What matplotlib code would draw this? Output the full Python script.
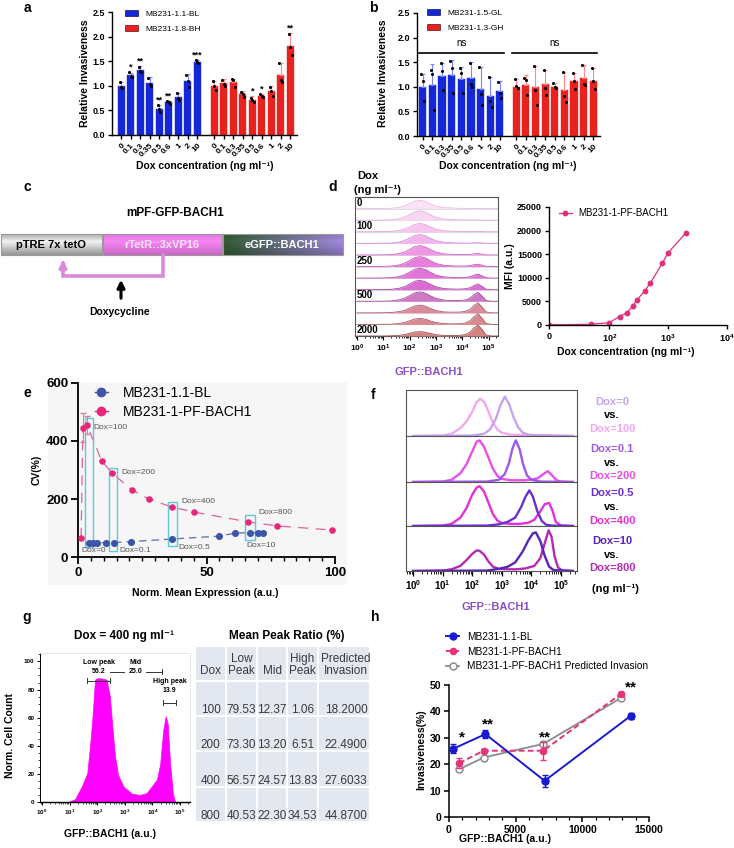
"""
BACH1 figure, panels a-h, rebuilt with matplotlib.
"""
import numpy as np
import matplotlib
matplotlib.use("Agg")
import matplotlib.pyplot as plt
from matplotlib.patches import Rectangle, Patch
from matplotlib.lines import Line2D
from matplotlib.ticker import MultipleLocator, FixedLocator

plt.rcParams["font.family"] = ["Liberation Sans", "DejaVu Sans"]
plt.rcParams["mathtext.fontset"] = "custom"
plt.rcParams["mathtext.rm"] = "Liberation Sans"
plt.rcParams["mathtext.bf"] = "Liberation Sans:bold"

# ── panel a / b data ────────────────────────────────────────────────
dox_labels = ["0", "0.1", "0.3", "0.35", "0.5", "0.6", "1", "2", "10"]

a_bl = [1.00, 1.22, 1.33, 1.06, 0.53, 0.67, 0.78, 1.10, 1.49]
a_bl_err = [0.07, 0.05, 0.08, 0.12, 0.08, 0.03, 0.08, 0.13, 0.03]
a_bl_dots = [[1.07, 0.98, 0.96], [1.28, 1.20, 1.18], [1.39, 1.31, 1.29],
             [1.16, 1.03, 1.00], [0.61, 0.52, 0.47], [0.70, 0.67, 0.64],
             [0.86, 0.75, 0.72], [1.21, 1.10, 0.98], [1.52, 1.48, 1.47]]
a_bl_stars = ["", "*", "**", "", "**", "**", "", "", "***"]
a_bh = [1.00, 1.05, 1.07, 0.83, 0.72, 0.80, 0.89, 1.22, 1.80]
a_bh_err = [0.10, 0.08, 0.06, 0.07, 0.07, 0.04, 0.10, 0.25, 0.27]
a_bh_dots = [[1.10, 1.00, 0.92], [1.12, 1.04, 0.99], [1.13, 1.11, 0.98],
             [0.88, 0.84, 0.78], [0.76, 0.72, 0.68], [0.83, 0.80, 0.78],
             [0.98, 0.90, 0.80], [1.47, 1.12, 1.08], [2.06, 1.78, 1.62]]
a_bh_stars = ["", "", "", "", "*", "*", "", "", "**"]

b_gl = [1.00, 1.03, 1.22, 1.23, 1.15, 1.17, 0.96, 0.82, 0.92]
b_gl_err = [0.26, 0.44, 0.27, 0.32, 0.26, 0.33, 0.44, 0.38, 0.19]
b_gl_dots = [[1.25, 1.12, 0.72], [1.35, 1.25, 0.52], [1.48, 1.32, 0.93],
             [1.52, 1.38, 0.88], [1.38, 1.28, 0.87], [1.48, 1.05, 1.00],
             [1.40, 0.85, 0.62], [1.20, 0.72, 0.58], [1.10, 0.88, 0.78]]
b_gh = [1.00, 1.04, 1.00, 1.05, 1.00, 0.93, 1.12, 1.17, 1.11]
b_gh_err = [0.15, 0.19, 0.42, 0.30, 0.07, 0.37, 0.17, 0.28, 0.28]
b_gh_dots = [[1.16, 1.02, 0.97], [1.18, 1.14, 0.83], [1.42, 0.93, 0.64],
             [1.35, 0.98, 0.83], [1.07, 1.00, 0.98], [1.30, 0.82, 0.70],
             [1.29, 1.12, 0.96], [1.45, 1.05, 1.03], [1.39, 1.12, 0.95]]

# ── panel d data ────────────────────────────────────────────────────
d_dox = [0, 50, 100, 150, 200, 250, 300, 400, 500, 800, 1000, 2000]
d_mfi = [50, 150, 500, 1800, 2600, 4000, 5400, 7200, 8900, 13100, 15300, 19500]
d_row_labels = {0: "0", 100: "100", 250: "250", 500: "500", 2000: "2000"}

ridge_log_gfp = [0, 0.5, 1.0, 1.3, 1.6, 1.8, 2.0, 2.2, 2.4, 2.6, 2.8, 3.0,
                 3.3, 3.6, 3.9, 4.1, 4.3, 4.45, 4.6, 4.75, 4.9, 5.1, 5.4]
ridge_rows = [
    [0, 0, .01, .03, .11, .24, .45, .68, .75, .64, .41, .23, .09, .05, .02, .02, .01, .01, .01, 0, 0, 0, 0],
    [0, 0, .01, .03, .13, .27, .51, .77, .85, .72, .47, .26, .10, .05, .03, .02, .01, .01, .01, 0, 0, 0, 0],
    [0, 0, .01, .03, .11, .24, .45, .68, .75, .64, .41, .23, .09, .05, .02, .02, .02, .03, .04, .02, 0, 0, 0],
    [0, 0, .01, .03, .12, .26, .48, .72, .80, .68, .44, .24, .10, .05, .03, .02, .03, .05, .06, .03, .01, 0, 0],
    [0, 0, .01, .03, .13, .27, .51, .77, .85, .72, .47, .26, .10, .05, .03, .03, .05, .10, .13, .07, .01, 0, 0],
    [0, 0, .01, .04, .14, .29, .54, .81, .90, .77, .50, .27, .11, .06, .04, .04, .08, .16, .21, .12, .02, 0, 0],
    [0, 0, .01, .04, .14, .29, .54, .81, .90, .77, .50, .27, .11, .06, .04, .06, .13, .27, .36, .21, .04, 0, 0],
    [0, 0, .01, .03, .13, .27, .51, .77, .85, .72, .47, .26, .10, .06, .05, .08, .18, .38, .51, .30, .05, 0, 0],
    [0, 0, .01, .03, .13, .27, .51, .77, .85, .72, .47, .26, .10, .07, .07, .11, .29, .61, .81, .48, .08, 0, 0],
    [0, 0, .01, .03, .11, .22, .42, .63, .70, .60, .39, .21, .08, .06, .07, .12, .32, .68, .91, .54, .09, 0, 0],
    [0, 0, .01, .02, .08, .18, .33, .50, .55, .47, .30, .17, .07, .05, .06, .12, .34, .71, .96, .57, .10, 0, 0],
    [0, 0, 0, .02, .06, .13, .24, .36, .40, .34, .22, .12, .05, .04, .06, .12, .35, .75, 1.0, .60, .10, 0, 0],
]
ridge_fill = ["#fbe3f7", "#f9d6f4", "#f6c6f0", "#f2b4ec", "#ee98e5", "#e97fdd",
              "#e274d8", "#da6cd2", "#cf78c4", "#d98c9c", "#d98a8e", "#d48282"]
ridge_edge = ["#e8b8e0", "#e6aede", "#e09fda", "#d88cd4", "#cc66c6", "#c452bc",
              "#b848b2", "#ae40aa", "#a04a98", "#b05a6e", "#a85a60", "#a05050"]

# ── panel e data ────────────────────────────────────────────────────
e_pf_x = [1.2, 1.9, 3.5, 9.2, 13.2, 21.0, 27.6, 36.6, 45.1, 66.3, 77.6, 98.9]
e_pf_cv = [66, 445, 455, 332, 290, 231, 200, 172, 155, 121, 107, 93]
e_pf_err = [0, 50, 30, 0, 0, 0, 0, 0, 0, 0, 0, 0]
e_bl_x = [4.3, 5.7, 7.4, 10.9, 14.0, 20.5, 36.7, 55.0, 60.9, 66.9, 69.9, 72.0]
e_bl_cv = [48, 48, 48, 50, 50, 53, 62, 72, 82, 84, 84, 84]
e_boxes = [(2.7, 5.8, 34, 479), (12.1, 15.2, 21, 307),
           (35.1, 38.5, 38, 190), (65.0, 69.0, 59, 145)]
e_notes = [("Dox=100", 5.8, 445), ("Dox=200", 16.7, 293), ("Dox=400", 40.4, 193),
           ("Dox=800", 70.2, 152), ("Dox=0", 1.5, 24), ("Dox=0.1", 16.0, 24),
           ("Dox=0.5", 39.0, 34), ("Dox=10", 65.4, 38)]

# ── panel f data (log10 GFP, normalised height) ─────────────────────
f_dox0 = [(0, 0), (2.0, .01), (2.4, .05), (2.6, .15), (2.8, .4), (2.95, .7), (3.1, .9),
          (3.25, .72), (3.4, .42), (3.55, .2), (3.7, .08), (3.9, .03), (4.3, .01), (5.4, 0)]
f_dox100 = [(0, 0), (1.0, .01), (1.3, .05), (1.6, .18), (1.8, .33), (2.0, .55), (2.15, .78),
            (2.27, .85), (2.4, .78), (2.55, .55), (2.7, .3), (2.85, .15), (3.0, .07),
            (3.3, .03), (3.8, .02), (4.5, .02), (4.8, .01), (5.4, 0)]
f_dox01 = [(0, 0), (2.5, .01), (2.9, .05), (3.1, .18), (3.25, .45), (3.35, .75), (3.47, .95),
           (3.6, .75), (3.72, .4), (3.85, .15), (4.0, .05), (4.3, .01), (5.4, 0)]
f_dox200 = [(0, 0), (1.0, .01), (1.3, .05), (1.6, .2), (1.8, .4), (2.0, .7), (2.15, .92),
            (2.25, .95), (2.4, .8), (2.55, .55), (2.7, .3), (2.85, .14), (3.0, .07),
            (3.3, .04), (3.8, .04), (4.2, .08), (4.4, .18), (4.55, .25), (4.7, .15),
            (4.85, .04), (5.0, .01), (5.4, 0)]
f_dox05 = [(0, 0), (2.5, .01), (2.9, .04), (3.2, .1), (3.45, .2), (3.65, .45), (3.8, .7),
           (3.93, .85), (4.05, .7), (4.2, .35), (4.35, .12), (4.5, .03), (4.7, .01), (5.4, 0)]
f_dox400 = [(0, 0), (1.0, .01), (1.3, .05), (1.6, .2), (1.8, .42), (2.0, .75), (2.15, .92),
            (2.25, .95), (2.4, .82), (2.55, .55), (2.7, .28), (2.85, .13), (3.0, .07),
            (3.3, .05), (3.6, .05), (3.9, .08), (4.1, .15), (4.3, .35), (4.45, .52),
            (4.6, .55), (4.72, .35), (4.82, .1), (5.0, .01), (5.4, 0)]
f_dox10 = [(0, 0), (2.5, .01), (2.9, .05), (3.2, .1), (3.45, .2), (3.7, .45), (3.9, .72),
           (4.05, .88), (4.15, .9), (4.3, .7), (4.45, .35), (4.6, .1), (4.75, .02), (5.4, 0)]
f_dox800 = [(0, 0), (1.0, .01), (1.3, .04), (1.6, .12), (1.8, .25), (2.0, .4), (2.15, .48),
            (2.25, .47), (2.4, .38), (2.55, .22), (2.7, .1), (2.9, .05), (3.2, .04),
            (3.5, .04), (3.8, .06), (4.1, .12), (4.3, .3), (4.45, .65), (4.58, .95),
            (4.68, .8), (4.78, .35), (4.9, .08), (5.05, .01), (5.4, 0)]
f_rows = [[(f_dox100, "#f4a8f0"), (f_dox0, "#c4a4ee")],
          [(f_dox200, "#e84ee8"), (f_dox01, "#9d5ae8")],
          [(f_dox400, "#e62fdc"), (f_dox05, "#6b2fd0")],
          [(f_dox800, "#b42ab4"), (f_dox10, "#5a24b4")]]
f_text = [("Dox=0", "#c4a4ee", 402), ("vs.", "black", 415), ("Dox=100", "#f4a8f0", 429),
          ("Dox=0.1", "#9d5ae8", 449), ("vs.", "black", 463), ("Dox=200", "#e84ee8", 476),
          ("Dox=0.5", "#6b2fd0", 493), ("vs.", "black", 507), ("Dox=400", "#e62fdc", 521),
          ("Dox=10", "#5a24b4", 541), ("vs.", "black", 555), ("Dox=800", "#b42ab4", 568)]

# ── panel g data ────────────────────────────────────────────────────
g_log_gfp = [0.95, 1.2, 1.44, 1.64, 1.74, 1.84, 1.92, 2.0, 2.15, 2.34, 2.46, 2.56, 2.64,
             2.76, 2.95, 3.25, 3.55, 3.79, 3.97, 4.16, 4.28, 4.39, 4.48, 4.55, 4.64, 4.74, 4.82]
g_count = [0, 2, 11, 20.5, 39.5, 63, 87, 88, 88, 87, 75, 51, 33,
           19, 11, 6, 5, 6.4, 11, 16, 27, 51, 61, 56, 27, 6, 0]
tbl_header = ["Dox", "Low\nPeak", "Mid", "High\nPeak", "Predicted\nInvasion"]
tbl_dox = ["100", "200", "400", "800"]
tbl_low = ["79.53", "73.30", "56.57", "40.53"]
tbl_mid = ["12.37", "13.20", "24.57", "22.30"]
tbl_high = ["1.06", "6.51", "13.83", "34.53"]
tbl_pred = ["18.2000", "22.4900", "27.6033", "44.8700"]

# ── panel h data ────────────────────────────────────────────────────
h_bl_x = [300, 2730, 7170, 13620]
h_bl_y = [25.8, 31.4, 13.7, 38.3]
h_bl_err = [1.7, 1.6, 2.2, 1.2]
h_pf_x = [760, 2590, 7070, 12880]
h_pf_y = [20.4, 25.1, 25.1, 46.6]
h_pf_err = [2.0, 0.5, 3.4, 0.6]
h_pred_y = [18.1, 22.5, 27.7, 45.0]
h_stars = [("*", 936, 28.6), ("**", 2906, 33.6), ("**", 7217, 28.6), ("**", 13620, 47.5)]

# ── figure & helpers ────────────────────────────────────────────────
W, H = 734, 848
fig = plt.figure(figsize=(W / 100, H / 100), dpi=100)
fig.patch.set_facecolor("white")


def pax(l, t, r, b):
    return fig.add_axes([l / W, 1 - b / H, (r - l) / W, (b - t) / H])


bg = pax(0, 0, W, H)
bg.axis("off")

BLUE, RED = "#1428d8", "#e8231f"
BOLD = dict(fontweight="bold")


def txt(x, y, s, fs=7.5, **kw):
    bg.text(x, y, s, fontsize=fs, ha=kw.pop("ha", "center"), va=kw.pop("va", "center"), **kw)


def clean(ax, lw=1.0):
    for s in ("top", "right"):
        ax.spines[s].set_visible(False)
    for s in ("left", "bottom"):
        ax.spines[s].set_linewidth(lw)


def log_ticks(ax, fs, lo=0, hi=5):
    ax.set_xticks(range(lo, hi + 1))
    ax.set_xticklabels([rf"$\mathbf{{10^{{{k}}}}}$" for k in range(lo, hi + 1)], fontsize=fs)
    minors = [np.log10(m) + k for k in range(lo - 1, hi + 1) for m in range(2, 10)]
    ax.xaxis.set_minor_locator(FixedLocator(minors))


def bar_group(ax, pos, vals, errs, dots, color, ecolor, stars=None):
    ax.bar(pos, vals, width=0.74, color=color, edgecolor=color, lw=0.3, zorder=2)
    ax.errorbar(pos, vals, yerr=[np.zeros(len(vals)), errs], fmt="none", ecolor=ecolor,
                elinewidth=0.8, capsize=1.6, capthick=0.8, zorder=3)
    for p, d in zip(pos, dots):
        ax.scatter(p + np.array([-0.14, 0.0, 0.14]), d, s=5, color="black", lw=0, zorder=4)
    if stars:
        for p, v, e, s in zip(pos, vals, errs, stars):
            if s:
                ax.text(p, v + e + 0.01, s, ha="center", va="bottom", fontsize=6.5, **BOLD)


def bar_axes(ax, off, xr):
    clean(ax)
    ax.set_xlim(*xr)
    ax.set_ylim(0, 2.5)
    ax.set_yticks(np.arange(0, 2.51, 0.5))
    ax.set_yticklabels([f"{v:.1f}" for v in np.arange(0, 2.51, 0.5)], fontsize=6.5, **BOLD)
    pos = list(range(9)) + [p + off for p in range(9)]
    ax.set_xticks(pos)
    ax.set_xticklabels(dox_labels * 2, rotation=45, ha="right", rotation_mode="anchor",
                       fontsize=6, **BOLD)
    ax.tick_params(length=3, width=1, pad=2)


# ── a ───────────────────────────────────────────────────────────────
ax_a = pax(112, 12, 297, 135)
off_a = 9.8
bar_group(ax_a, np.arange(9), a_bl, a_bl_err, a_bl_dots, BLUE, "#7a86ff", a_bl_stars)
bar_group(ax_a, np.arange(9) + off_a, a_bh, a_bh_err, a_bh_dots, RED, "#ff8a86", a_bh_stars)
bar_axes(ax_a, off_a, (-0.95, 18.5))
ax_a.legend(handles=[Patch(fc=BLUE, ec="#101060", lw=0.5, label="MB231-1.1-BL"),
                     Patch(fc=RED, ec="#601010", lw=0.5, label="MB231-1.8-BH")],
            loc="upper left", bbox_to_anchor=(125, 10), bbox_transform=bg.transData,
            frameon=False, fontsize=6, borderpad=0, borderaxespad=0, handlelength=1.6,
            handleheight=0.7, handletextpad=0.8, labelspacing=0.85)
txt(85, 73, "Relative Invasiveness", 7.5, rotation=90, **BOLD)
txt(205, 166, "Dox concentration (ng ml⁻¹)", 7.5, **BOLD)

# ── b ───────────────────────────────────────────────────────────────
ax_b = pax(417, 13, 600, 136)
off_b = 9.7
bar_group(ax_b, np.arange(9), b_gl, b_gl_err, b_gl_dots, BLUE, "#7a86ff")
bar_group(ax_b, np.arange(9) + off_b, b_gh, b_gh_err, b_gh_dots, RED, "#ff8a86")
bar_axes(ax_b, off_b, (-0.6, 18.4))
for x0, x1 in ((-0.4, 8.4), (off_b - 0.4, off_b + 8.4)):
    ax_b.plot([x0, x1], [1.69, 1.69], color="black", lw=1.2)
    ax_b.text((x0 + x1) / 2, 1.78, "ns", ha="center", va="bottom", fontsize=7)
ax_b.legend(handles=[Patch(fc=BLUE, ec="#101060", lw=0.5, label="MB231-1.5-GL"),
                     Patch(fc=RED, ec="#601010", lw=0.5, label="MB231-1.3-GH")],
            loc="upper left", bbox_to_anchor=(427, 9), bbox_transform=bg.transData,
            frameon=False, fontsize=6, borderpad=0, borderaxespad=0, handlelength=1.6,
            handleheight=0.7, handletextpad=0.8, labelspacing=0.85)
txt(383, 73, "Relative Invasiveness", 7.5, rotation=90, **BOLD)
txt(508, 166, "Dox concentration (ng ml⁻¹)", 7.5, **BOLD)

# ── c : construct diagram ───────────────────────────────────────────
txt(175, 213, "mPF-GFP-BACH1", 8.5, **BOLD)


def grad_bar(x0, x1, left, right, prof):
    y0, y1 = 234, 255
    t = np.linspace(0, 1, 24)
    shade = np.interp(t, [0, 0.35, 1], prof)
    s = np.linspace(0, 1, 100)[:, None]
    base = (1 - s) * np.array(left) + s * np.array(right)
    img = np.clip(shade[:, None, None] * base[None, :, :], 0, 1)
    bg.imshow(img, extent=(x0, x1, y1, y0), aspect="auto", interpolation="bilinear", zorder=2)
    bg.add_patch(Rectangle((x0, y0), x1 - x0, y1 - y0, fill=False, ec="#9a9a9a", lw=0.8, zorder=3))


grad_bar(1, 102, (0.95, 0.95, 0.95), (0.95, 0.95, 0.95), [0.72, 1.0, 0.62])
grad_bar(103, 222, (0.97, 0.52, 0.96), (0.97, 0.52, 0.96), [0.92, 1.0, 0.8])
grad_bar(223, 343, (0.2, 0.36, 0.2), (0.64, 0.54, 0.88), [0.9, 1.0, 0.78])
txt(51, 245, "pTRE 7x tetO", 8, zorder=4, **BOLD)
txt(162, 245, "rTetR::3xVP16", 8, color="#fde6fb", zorder=4, **BOLD)
txt(282, 245, "eGFP::BACH1", 8, color="white", zorder=4, **BOLD)
bg.plot([163, 163, 63, 63], [255, 276, 276, 266], color="#d98bd9", lw=2.6,
        solid_joinstyle="miter", zorder=3)
bg.annotate("", xy=(63, 257), xytext=(63, 268),
            arrowprops=dict(arrowstyle="-|>", color="#d98bd9", lw=2.6, mutation_scale=10))
bg.annotate("", xy=(121, 277), xytext=(121, 301),
            arrowprops=dict(arrowstyle="-|>", color="black", lw=2.2, mutation_scale=11))
txt(120, 312, "Doxycycline", 7.5, **BOLD)

# ── d : ridge histograms + MFI ──────────────────────────────────────
txt(357, 176, "Dox", 8, ha="left", **BOLD)
txt(354, 190, "(ng ml⁻¹)", 8, ha="left", **BOLD)
ax_d = pax(355, 197, 498, 336)
n_rows = len(ridge_rows)
for i, (vals, fc, ec) in enumerate(zip(ridge_rows, ridge_fill, ridge_edge)):
    base = n_rows - 1 - i
    y = base + np.array(vals) * 0.95
    ax_d.fill_between(ridge_log_gfp, base, y, color=fc, lw=0, zorder=2 + i)
    ax_d.plot(ridge_log_gfp, y, color=ec, lw=0.6, zorder=2 + i)
    ax_d.axhline(base, color="#cfcfcf", lw=0.5, zorder=1)
    if d_dox[i] in d_row_labels:
        ax_d.text(-0.02, base + 0.5, d_row_labels[d_dox[i]], fontsize=7, ha="left",
                  va="center", zorder=30, **BOLD)
ax_d.set_xlim(-0.08, 5.36)
ax_d.set_ylim(0, n_rows)
ax_d.set_yticks([])
for s in ax_d.spines.values():
    s.set_color("#555555")
    s.set_linewidth(0.8)
log_ticks(ax_d, 6)
ax_d.tick_params(axis="x", length=3, width=0.8, pad=1.5)
ax_d.tick_params(axis="x", which="minor", length=1.5, width=0.6)
txt(429, 372, "GFP::BACH1", 8, color="#8a4fc8", **BOLD)

PINK = "#e0307a"
ax_m = pax(549, 207, 727, 325)
ax_m.set_xscale("symlog", linthresh=10, linscale=0.02)
ax_m.plot(d_dox, d_mfi, color=PINK, lw=0.9, marker="o", ms=3.2, label="MB231-1-PF-BACH1")
ax_m.set_xlim(0, 10000)
ax_m.set_ylim(0, 25000)
clean(ax_m)
ax_m.set_xticks([0, 100, 1000, 10000])
ax_m.set_xticklabels(["0", r"$\mathbf{10^2}$", r"$\mathbf{10^3}$", r"$\mathbf{10^4}$"], fontsize=6.5, **BOLD)
ax_m.xaxis.set_minor_locator(FixedLocator([]))
ax_m.set_yticks(range(0, 25001, 5000))
ax_m.set_yticklabels([str(v) for v in range(0, 25001, 5000)], fontsize=6.5, **BOLD)
ax_m.tick_params(length=3, width=1, pad=2)
ax_m.legend(loc="upper left", bbox_to_anchor=(559, 208), bbox_transform=bg.transData,
            frameon=False, fontsize=7, borderpad=0, borderaxespad=0, handlelength=1.3,
            handletextpad=0.7)
txt(510, 266, "MFI (a.u.)", 7.5, rotation=90, **BOLD)
txt(626, 352, "Dox concentration (ng ml⁻¹)", 7.5, **BOLD)

# ── e : CV vs mean expression ───────────────────────────────────────
bg.add_patch(Rectangle((48, 382), 299, 203, fc="#f6f6f6", ec="none", zorder=0))
ax_e = pax(78, 383, 335, 557)
ax_e.patch.set_alpha(0)
E_BLUE, E_PINK = "#3d55a8", "#e8267c"
ax_e.plot(e_bl_x, e_bl_cv, color="#5a6ab0", lw=0.9, dashes=(6, 4), zorder=2)
ax_e.plot(e_pf_x, e_pf_cv, color="#e0609a", lw=0.9, dashes=(8, 6), zorder=2)
ax_e.errorbar(e_pf_x, e_pf_cv, yerr=e_pf_err, fmt="none", ecolor="#e07aa8", elinewidth=0.8,
              capsize=2, zorder=2)
ax_e.scatter(e_bl_x, e_bl_cv, s=26, color=E_BLUE, lw=0, zorder=4)
ax_e.scatter(e_pf_x, e_pf_cv, s=22, color=E_PINK, lw=0, zorder=4)
for x0, x1, y0, y1 in e_boxes:
    ax_e.add_patch(Rectangle((x0, y0), x1 - x0, y1 - y0, fill=False, ec="#5cc8d8", lw=1.0, zorder=3))
for s, x, y in e_notes:
    ax_e.text(x, y, s, fontsize=6, color="#555555", va="center", ha="left", zorder=5)
ax_e.set_xlim(0, 100)
ax_e.set_ylim(0, 600)
clean(ax_e, 1.3)
ax_e.set_xticks([0, 50, 100])
ax_e.set_xticklabels(["0", "50", "100"], fontsize=9.5, **BOLD)
ax_e.xaxis.set_minor_locator(MultipleLocator(5))
ax_e.set_yticks([0, 200, 400, 600])
ax_e.set_yticklabels(["0", "200", "400", "600"], fontsize=9.5, **BOLD)
ax_e.tick_params(length=5, width=1.3, pad=2)
ax_e.tick_params(which="minor", length=3, width=1.0)
ax_e.legend(handles=[Line2D([], [], color=E_BLUE, marker="o", ms=6, lw=1, label="MB231-1.1-BL"),
                     Line2D([], [], color=E_PINK, marker="o", ms=6, lw=1, label="MB231-1-PF-BACH1")],
            loc="upper left", bbox_to_anchor=(95, 386), bbox_transform=bg.transData,
            frameon=False, fontsize=10, borderpad=0, borderaxespad=0, handlelength=0.9,
            handletextpad=1.1, labelspacing=0.35)
txt(37, 470, "CV(%)", 7.5, rotation=90, **BOLD)
txt(205, 593, "Norm. Mean Expression (a.u.)", 7.5, **BOLD)

# ── f : paired histograms ───────────────────────────────────────────
f_bounds = [(390, 436), (436, 482), (482, 526), (526, 571)]
for k, ((t, b), curves) in enumerate(zip(f_bounds, f_rows)):
    ax_f = pax(406, t, 577, b)
    for pts, col in curves:
        xs, ys = zip(*pts)
        ax_f.plot(xs, ys, color=col, lw=1.7, solid_joinstyle="round")
    ax_f.set_xlim(-0.24, 5.54)
    ax_f.set_ylim(0, 1.05)
    ax_f.set_yticks([])
    for s in ax_f.spines.values():
        s.set_color("#555555")
        s.set_linewidth(0.8)
    if k < 3:
        ax_f.set_xticks([])
    else:
        log_ticks(ax_f, 7)
        ax_f.tick_params(axis="x", length=3.5, width=0.9, pad=2)
        ax_f.tick_params(axis="x", which="minor", length=2, width=0.6)
for s, col, y in f_text:
    txt(612, y, s, 8, color=col, **BOLD)
txt(615, 589, "(ng ml⁻¹)", 8, **BOLD)
txt(496, 607, "GFP::BACH1", 8, color="#8a4fc8", **BOLD)

# ── g : histogram + table ───────────────────────────────────────────
txt(124, 636, "Dox = 400 ng ml⁻¹", 8.5, **BOLD)
ax_g = pax(40, 653, 190, 802)
ax_g.fill_between(g_log_gfp, 0, g_count, color="#ff00ff", lw=0.5, zorder=2)
ax_g.set_xlim(-0.07, 5.36)
ax_g.set_ylim(0, 106)
for s in ("top", "right"):
    ax_g.spines[s].set_color("#e2e2e2")
    ax_g.spines[s].set_linewidth(0.6)
ax_g.spines["left"].set_linewidth(0.7)
ax_g.spines["bottom"].set_linewidth(1.0)
log_ticks(ax_g, 4.5)
ax_g.set_yticks(range(0, 101, 20))
ax_g.set_yticklabels([str(v) for v in range(0, 101, 20)], fontsize=4.5, **BOLD)
ax_g.yaxis.set_minor_locator(MultipleLocator(5))
ax_g.tick_params(length=2.5, width=0.7, pad=1.5)
ax_g.tick_params(which="minor", length=1.3, width=0.5)
BR = dict(color="#333333", lw=0.7)
ax_g.plot([1.63, 2.46], [86.4, 86.4], **BR)
ax_g.plot([1.63, 1.63], [84.6, 88.2], **BR)
ax_g.plot([2.46, 2.46], [84.6, 88.2], **BR)
ax_g.text(2.05, 99.3, "Low peak", fontsize=5, ha="center", va="center", **BOLD)
ax_g.text(2.05, 92.6, "56.2", fontsize=5, ha="center", va="center", **BOLD)
ax_g.plot([2.46, 2.97], [92.6, 92.6], **BR)
ax_g.plot([3.78, 4.35], [92.6, 92.6], **BR)
ax_g.plot([4.35, 4.35], [90.8, 94.4], **BR)
ax_g.text(3.4, 99.3, "Mid", fontsize=5, ha="center", va="center", **BOLD)
ax_g.text(3.4, 92.6, "25.0", fontsize=5, ha="center", va="center", **BOLD)
ax_g.plot([4.38, 4.86], [70.7, 70.7], **BR)
ax_g.plot([4.38, 4.38], [68.9, 72.5], **BR)
ax_g.plot([4.86, 4.86], [68.9, 72.5], **BR)
ax_g.text(4.62, 85.7, "High peak", fontsize=5, ha="center", va="center", **BOLD)
ax_g.text(4.62, 79.3, "13.9", fontsize=5, ha="center", va="center", **BOLD)
txt(10, 735, "Norm. Cell Count", 7.5, rotation=90, **BOLD)
txt(110, 834, "GFP::BACH1 (a.u.)", 7.5, **BOLD)

txt(287, 636, "Mean Peak Ratio (%)", 8.5, **BOLD)
col_x = [195, 226, 257, 287, 318, 370]
row_y = [646, 681, 716, 751, 787, 822]
table = [tbl_header] + [list(r) for r in zip(tbl_dox, tbl_low, tbl_mid, tbl_high, tbl_pred)]
for r in range(5):
    for c in range(5):
        x0, x1 = col_x[c], col_x[c + 1]
        y0, y1 = row_y[r], row_y[r + 1]
        bg.add_patch(Rectangle((x0 + 0.8, y0 + 0.8), x1 - x0 - 1.6, y1 - y0 - 1.6,
                               fc="#e3e7f0", ec="none", zorder=1))
        cx = (x0 + x1) / 2 + (2 if c == 4 else 0)
        if r == 0:
            txt(cx, y1 - 4, table[r][c], 8.5, va="bottom", color="#3a3a3a", linespacing=1.05)
        else:
            txt(cx, y1 - 6, table[r][c], 8.5, va="center", color="#3a3a3a")

# ── h : invasiveness vs GFP ─────────────────────────────────────────
ax_h = pax(449, 685, 649, 817)
H_BLUE, H_PINK, H_GREY = "#1a1ad0", "#e8337a", "#8c8c8c"
ax_h.plot(h_pf_x, h_pred_y, color=H_GREY, lw=1.3, marker="o", ms=5, mfc="white",
          mec=H_GREY, mew=1.1, zorder=3, label="MB231-1-PF-BACH1 Predicted Invasion")
ax_h.errorbar(h_pf_x, h_pf_y, yerr=h_pf_err, fmt="none", ecolor=H_PINK, elinewidth=1,
              capsize=2.5, zorder=4)
ax_h.plot(h_pf_x, h_pf_y, color=H_PINK, lw=1.4, dashes=(3, 1.6), marker="o", ms=4.5,
          zorder=4, label="MB231-1-PF-BACH1")
ax_h.errorbar(h_bl_x, h_bl_y, yerr=h_bl_err, fmt="none", ecolor=H_BLUE, elinewidth=1,
              capsize=2.5, zorder=5)
ax_h.plot(h_bl_x, h_bl_y, color=H_BLUE, lw=1.4, marker="o", ms=5, zorder=5,
          label="MB231-1.1-BL")
for s, x, y in h_stars:
    ax_h.text(x, y, s, fontsize=11, ha="center", va="baseline", **BOLD)
ax_h.set_xlim(0, 15000)
ax_h.set_ylim(0, 50)
clean(ax_h, 1.1)
ax_h.set_xticks([0, 5000, 10000, 15000])
ax_h.set_xticklabels(["0", "5000", "10000", "15000"], fontsize=7.5, **BOLD)
ax_h.xaxis.set_minor_locator(MultipleLocator(1000))
ax_h.set_yticks(range(0, 51, 10))
ax_h.set_yticklabels([str(v) for v in range(0, 51, 10)], fontsize=7.5, **BOLD)
ax_h.tick_params(length=3.5, width=1.1, pad=2)
ax_h.tick_params(which="minor", length=2, width=0.9)
hh, ll = ax_h.get_legend_handles_labels()
ax_h.legend(hh[::-1], ll[::-1], loc="upper left", bbox_to_anchor=(446, 632),
            bbox_transform=bg.transData, frameon=False, fontsize=7.3, borderpad=0,
            borderaxespad=0, handlelength=1.3, handletextpad=0.8, labelspacing=0.45)
txt(421, 750, "Invasiveness(%)", 7.5, rotation=90, **BOLD)
txt(505, 839, "GFP::BACH1 (a.u.)", 7.5, **BOLD)

# ── panel letters ───────────────────────────────────────────────────
for s, x, y in (("a", 27, 8), ("b", 373, 8), ("c", 27, 187), ("d", 333, 187),
                ("e", 27, 393), ("f", 373, 395), ("g", 27, 617), ("h", 375, 617)):
    txt(x, y, s, 10, **BOLD)

bg.set_xlim(0, W)
bg.set_ylim(H, 0)
fig.savefig("out.png", dpi=100, facecolor="white")
